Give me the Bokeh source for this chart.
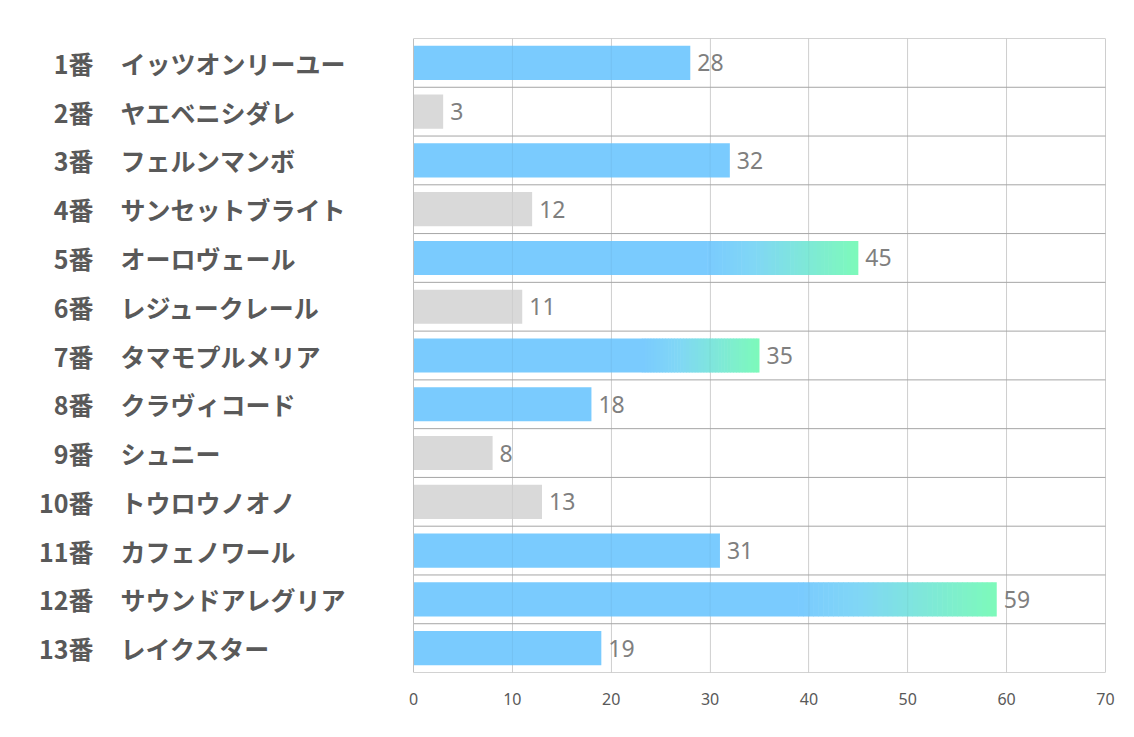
from bokeh.plotting import figure
from bokeh.models import Range1d, FixedTicker
from bokeh.core.properties import value
from bokeh.embed import file_html
from bokeh.resources import INLINE

# ---- data ----
nums = [1, 2, 3, 4, 5, 6, 7, 8, 9, 10, 11, 12, 13]
names = ["イッツオンリーユー", "ヤエベニシダレ", "フェルンマンボ", "サンセットブライト",
         "オーロヴェール", "レジュークレール", "タマモプルメリア", "クラヴィコード",
         "シュニー", "トウロウノオノ", "カフェノワール", "サウンドアレグリア", "レイクスター"]
values = [28, 3, 32, 12, 45, 11, 35, 18, 8, 13, 31, 59, 19]
kinds = ["blue", "gray", "blue", "gray", "grad", "gray", "grad", "blue",
         "gray", "gray", "blue", "grad", "blue"]
x_ticks = [0, 10, 20, 30, 40, 50, 60, 70]

# ---- style ----
BLUE = (122, 203, 254)
MID = (128, 214, 246)
GREEN = (125, 250, 186)
GRAY = "#d9d9d9"
GRAD_START = 0.66
NSLICE = 40
BAR_H = 0.7


def hexc(c):
    return "#%02x%02x%02x" % tuple(int(round(v)) for v in c)


def lerp(a, b, t):
    return tuple(a[i] + (b[i] - a[i]) * t for i in range(3))


def grad_color(t):
    if t < 0.3:
        return lerp(BLUE, MID, t / 0.3)
    return lerp(MID, GREEN, (t - 0.3) / 0.7)


rows = list(range(1, len(nums) + 1))

p = figure(width=1118, height=721, output_backend="svg", toolbar_location=None,
           x_range=Range1d(-41.78, 70.71), y_range=Range1d(13.5, 0.5),
           min_border_left=0, min_border_right=6, min_border_top=38,
           min_border_bottom=49)
p.outline_line_color = None
p.background_fill_color = "white"
p.border_fill_color = "white"

# grid
p.ygrid.grid_line_color = None
p.xgrid.ticker = FixedTicker(ticks=x_ticks[1:])
p.xgrid.grid_line_color = "#d9d9d9"
p.xgrid.grid_line_width = 1

# axes
p.yaxis.visible = False
p.xaxis.ticker = FixedTicker(ticks=x_ticks)
p.xaxis.axis_line_color = None
p.xaxis.major_tick_line_color = None
p.xaxis.minor_tick_line_color = None
p.xaxis.major_label_standoff = 14
p.xaxis.major_label_text_font = "Noto Sans"
p.xaxis.major_label_text_font_size = "16px"
p.xaxis.major_label_text_color = "#595959"

# bars (solid parts)
left, right, ys, cols = [], [], [], []
gl, gr, gy, gc = [], [], [], []
for r, v, k in zip(rows, values, kinds):
    if k == "gray":
        left.append(0); right.append(v); ys.append(r); cols.append(GRAY)
    elif k == "blue":
        left.append(0); right.append(v); ys.append(r); cols.append(hexc(BLUE))
    else:
        s = v * GRAD_START
        left.append(0); right.append(s + 0.05); ys.append(r); cols.append(hexc(BLUE))
        w = (v - s) / NSLICE
        for i in range(NSLICE):
            gl.append(s + i * w)
            gr.append(min(v, s + (i + 1) * w + 0.06))
            gy.append(r)
            gc.append(hexc(grad_color((i + 0.5) / NSLICE)))

p.hbar(y=ys, left=left, right=right, height=BAR_H, fill_color=cols, line_color=None)
p.hbar(y=gy, left=gl, right=gr, height=BAR_H, fill_color=gc, line_color=None)

# faint grid lines visible through bars
p.segment(x0=x_ticks[1:], x1=x_ticks[1:], y0=[0.5] * 7, y1=[13.5] * 7,
          line_color="black", line_alpha=0.05, line_width=1)

# separators
seps = [r - 0.5 for r in rows] + [rows[-1] + 0.5]
p.segment(x0=[0] * len(seps), x1=[x_ticks[-1]] * len(seps), y0=seps, y1=seps,
          line_color="#a6a6a6", line_width=1)
p.segment(x0=[0], x1=[0], y0=[0.5], y1=[13.5], line_color="#bfbfbf", line_width=1)

# value labels
p.text(x=values, y=rows, text=[str(v) for v in values], x_offset=7,
       text_align="left", text_baseline="middle",
       text_font=value("Noto Sans"), text_font_size="23px", text_color="#7f7f7f")

# row labels
p.text(x=[-32.37] * len(rows), y=rows, text=[f"{n}番" for n in nums],
       text_align="right", text_baseline="middle",
       text_font=value("Noto Sans CJK JP"), text_font_style="bold",
       text_font_size="25px", text_color="#595959")
p.text(x=[-29.64] * len(rows), y=rows, text=names,
       text_align="left", text_baseline="middle",
       text_font=value("Noto Sans CJK JP"), text_font_style="bold",
       text_font_size="25px", text_color="#595959")

open("out.html", "w").write(file_html(p, INLINE))
